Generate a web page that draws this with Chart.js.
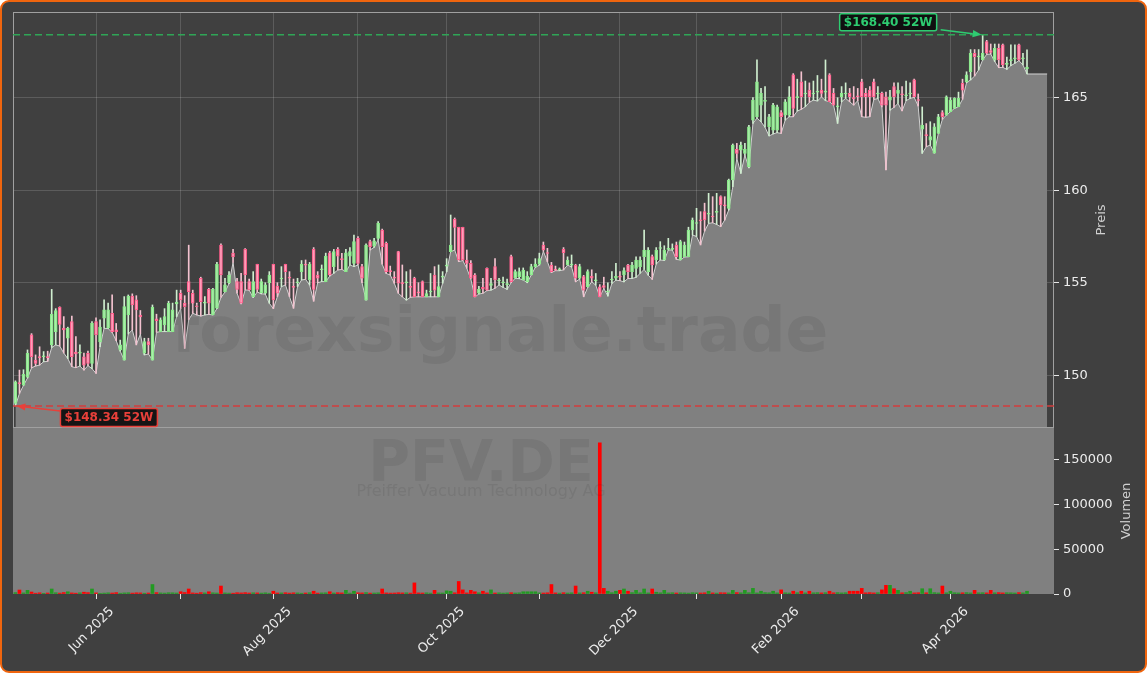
<!DOCTYPE html>
<html>
<head>
<meta charset="utf-8">
<script src="https://cdn.jsdelivr.net/npm/chart.js@4.4.1/dist/chart.umd.min.js"></script>
<style>
html,body{margin:0;padding:0;background:#ffffff;}
#frame{position:absolute;left:0;top:0;width:1147px;height:673px;box-sizing:border-box;border:2px solid #f0650e;border-radius:9px;background:#404040;}
#wrap{position:absolute;left:0;top:0;width:1147px;height:673px;}
</style>
</head>
<body>
<div id="frame"></div>
<div id="wrap"><canvas id="c" width="1147" height="673"></canvas></div>
<script>
// ---- Daily OHLC data (trading-day index 0 = early May 2025) ----
const opens = [
148.48,149.60,149.47,149.90,152.18,150.82,151.00,151.00,151.00,151.64,
152.36,153.67,152.55,152.00,152.90,151.25,151.20,151.00,151.19,150.64,
152.90,151.80,153.08,152.54,153.35,152.45,151.37,150.82,153.26,154.28,
154.07,153.25,151.19,151.82,150.82,153.05,152.36,152.72,152.36,152.36,
153.85,154.43,153.90,155.06,154.43,153.75,155.24,153.90,154.64,153.26,
153.62,157.04,154.52,155.00,156.60,155.06,155.06,156.80,155.06,154.25,
155.99,154.46,154.43,155.00,155.99,154.82,155.20,155.99,155.30,154.80,
155.00,155.60,156.00,155.15,156.80,155.42,155.70,155.06,156.62,155.87,
156.80,156.30,155.60,156.44,156.05,157.40,155.87,154.06,157.22,156.98,
157.40,157.85,157.13,155.65,155.30,156.68,155.00,155.00,154.80,155.24,
154.50,155.06,154.24,154.50,155.42,154.24,155.30,155.90,156.68,158.42,
157.99,157.99,156.23,156.05,155.42,154.43,154.75,155.78,154.85,155.87,
155.10,155.00,154.90,156.41,155.24,155.33,155.15,155.06,155.42,155.87,
156.00,157.04,156.60,155.96,155.70,155.70,156.80,155.96,155.95,155.96,
155.24,155.33,154.79,155.35,155.10,154.78,154.85,154.50,155.15,155.25,
155.35,155.42,155.96,155.60,155.78,155.87,156.41,155.60,156.41,156.23,
156.85,156.23,156.80,156.80,157.04,156.23,156.41,156.41,157.85,158.20,
158.40,158.84,158.70,158.60,158.80,159.65,159.20,159.02,160.55,162.21,
162.17,161.99,161.27,163.79,163.97,164.60,164.80,163.43,163.25,163.25,
164.19,164.06,164.06,166.23,165.00,165.86,165.20,165.41,165.20,165.30,
165.41,165.30,166.23,165.23,164.50,165.05,165.20,165.23,165.00,165.10,
165.86,165.23,165.41,165.86,165.20,165.23,165.05,164.87,165.60,165.23,
165.20,165.10,165.20,165.96,164.90,163.30,163.00,162.70,162.00,163.07,
164.19,164.06,164.24,164.42,164.51,165.78,165.86,166.41,167.40,167.20,
167.04,168.03,167.55,167.04,167.67,167.85,166.80,167.00,167.10,167.85,
167.10,166.55];

const highs = [
149.70,150.28,150.30,151.37,152.25,151.10,151.54,151.28,151.30,154.64,
153.60,153.70,153.17,152.60,153.20,152.09,151.64,151.20,151.30,152.90,
153.10,153.00,154.07,153.90,154.34,152.80,151.90,154.25,154.34,154.40,
154.30,153.50,152.00,152.00,153.80,153.30,153.10,153.60,154.00,153.90,
154.60,154.60,154.30,157.03,154.60,153.90,155.30,154.25,154.70,154.70,
156.10,157.10,155.24,155.60,156.80,155.24,155.51,156.85,155.20,155.60,
156.00,155.20,155.00,155.60,156.00,155.00,155.87,156.00,155.60,155.20,
155.24,156.20,156.23,156.10,156.90,155.60,155.96,156.60,156.70,156.80,
156.90,156.59,156.80,156.90,157.58,157.50,156.00,157.10,157.30,157.40,
158.30,157.90,157.20,155.90,155.60,156.70,155.96,155.60,155.70,155.30,
155.00,155.10,154.60,155.50,155.87,155.96,155.60,156.30,158.66,158.50,
158.00,158.00,156.77,156.20,155.50,154.80,155.24,155.80,155.24,156.30,
155.24,155.30,155.20,156.50,155.70,155.80,155.80,155.60,156.00,156.30,
156.60,157.20,156.86,156.10,155.90,155.80,156.90,156.40,156.50,156.00,
156.00,155.40,155.70,155.70,155.50,154.90,155.30,155.00,155.60,156.05,
155.60,155.80,156.00,156.10,156.40,156.40,157.85,156.90,156.50,156.90,
157.22,157.00,157.40,157.10,157.20,157.30,157.20,158.00,158.50,159.02,
158.84,159.30,159.83,159.65,159.83,159.70,159.65,160.60,162.50,162.53,
162.60,162.53,163.50,165.00,167.04,165.50,165.60,164.10,164.70,164.60,
164.30,164.90,165.60,166.30,166.00,166.40,165.90,165.80,165.90,166.20,
166.00,167.04,166.30,165.50,165.00,165.60,165.80,165.50,165.60,165.50,
166.00,165.50,165.60,166.00,165.60,165.30,165.30,165.40,165.80,165.80,
165.60,165.90,165.80,166.00,165.20,164.50,163.60,163.70,163.60,164.10,
164.30,165.10,165.00,165.00,165.30,166.00,166.40,167.60,167.60,167.60,
168.40,168.10,167.90,167.90,167.90,167.90,167.20,167.85,167.85,167.90,
167.40,167.58];

const lows = [
148.34,149.02,149.45,149.85,150.40,150.50,150.55,150.73,150.75,151.50,
151.64,151.58,151.20,150.90,150.46,150.41,150.50,150.28,150.52,150.36,
150.10,151.55,152.54,152.52,152.32,151.87,151.30,150.82,152.23,152.45,
151.64,152.23,151.10,151.15,150.82,152.32,152.36,152.36,152.36,152.36,
153.17,153.60,151.45,153.00,153.35,153.26,153.20,153.26,153.29,153.26,
153.60,154.20,154.50,154.95,156.10,154.43,153.85,154.61,154.60,154.20,
154.50,154.40,154.39,153.89,153.60,154.25,154.79,154.88,154.25,153.62,
154.79,155.15,155.18,154.88,154.00,155.00,155.06,155.06,155.36,155.51,
155.69,155.72,155.60,155.96,155.87,155.96,155.00,154.06,156.77,156.91,
157.31,156.00,155.50,155.42,154.97,154.43,154.24,154.06,154.21,154.24,
154.24,154.24,154.24,154.24,154.24,154.24,154.97,155.60,156.68,156.77,
156.14,156.20,155.78,155.20,154.24,154.39,154.43,154.57,154.60,154.70,
154.88,154.75,154.64,155.00,155.24,155.22,155.15,155.00,155.42,155.83,
155.95,156.70,156.14,155.55,155.65,155.65,155.69,155.95,155.85,155.05,
155.20,154.24,154.75,155.05,154.87,154.24,154.69,154.28,154.96,155.14,
155.11,155.05,155.23,155.23,155.29,155.50,155.72,155.41,155.18,156.01,
156.23,156.20,156.77,156.77,156.26,156.23,156.39,156.40,157.58,157.50,
157.04,157.79,158.21,158.24,158.15,158.03,158.39,158.93,160.19,161.72,
160.91,161.90,161.20,163.61,163.90,163.70,163.40,162.93,163.04,163.11,
163.07,163.79,163.97,163.97,164.28,164.37,164.51,164.75,164.87,164.82,
165.04,164.84,164.78,164.60,163.61,164.78,164.96,164.78,164.60,164.84,
163.97,163.94,163.97,164.91,164.95,164.50,161.09,164.33,164.48,164.69,
164.28,164.84,164.96,165.02,164.55,161.99,162.35,162.44,162.00,163.07,
163.83,164.06,164.24,164.42,164.51,164.91,165.81,165.96,166.17,166.50,
167.04,167.34,167.36,166.95,166.62,166.64,166.53,166.73,166.86,167.00,
166.77,166.28];

const closes = [
149.65,149.55,150.05,151.19,151.00,150.64,150.95,151.05,150.95,153.29,
153.49,152.75,152.45,152.54,151.00,151.15,151.25,150.55,150.64,152.81,
152.18,152.60,153.53,153.53,152.36,152.35,151.64,153.71,154.28,153.80,
153.53,153.15,151.82,151.64,153.67,152.95,152.99,153.17,153.89,153.53,
153.95,154.07,153.70,154.52,153.89,153.70,153.98,153.95,153.89,154.64,
155.99,155.42,154.88,155.42,156.40,154.64,153.89,155.42,154.61,155.06,
154.64,155.06,154.88,155.42,154.07,154.43,155.25,155.60,155.25,154.75,
155.05,155.99,155.95,155.99,154.64,155.24,155.75,156.44,155.42,156.68,
156.44,156.25,156.62,156.68,157.22,156.05,155.24,157.04,156.95,157.27,
158.21,156.95,155.60,155.60,155.25,154.97,154.95,155.05,154.75,154.24,
154.45,154.24,154.42,154.55,154.60,154.79,155.35,155.95,157.04,157.99,
156.23,156.23,156.05,155.24,154.24,154.64,154.65,154.60,154.95,155.15,
155.12,155.02,154.92,155.06,155.60,155.60,155.69,155.36,155.87,156.01,
156.30,156.77,156.58,155.60,155.68,155.72,156.62,156.23,156.00,155.24,
155.87,154.60,155.60,155.25,155.12,154.24,154.75,154.55,155.20,155.35,
155.30,155.65,155.60,155.96,156.23,156.23,156.77,156.77,155.96,156.77,
156.90,156.77,156.85,156.82,156.41,157.22,157.04,157.85,158.39,158.25,
158.35,158.39,158.75,158.55,158.85,159.20,159.15,160.55,162.44,161.99,
162.44,162.21,163.43,164.87,165.86,165.23,164.85,163.97,164.60,164.51,
163.97,164.78,165.05,164.42,165.05,165.05,165.25,165.05,165.25,165.35,
165.23,165.35,164.78,164.60,164.55,165.23,165.25,165.05,164.95,165.05,
165.05,165.05,165.05,165.05,165.25,164.60,164.60,165.05,165.05,165.41,
165.15,165.15,165.25,165.05,164.85,163.50,162.95,162.90,163.43,163.97,
163.97,165.05,164.87,164.96,164.96,165.41,166.23,167.40,167.22,167.25,
167.40,167.40,167.45,167.67,167.04,166.77,166.85,167.05,167.15,167.04,
167.15,166.65];

const volumes = [
1500,4450,1200,4100,2200,900,1300,800,1100,5600,1400,1000,
1600,2500,1200,900,1300,2000,1500,5600,1200,800,1000,1300,
1100,1500,900,1200,1400,1000,1300,1200,900,1100,10600,1500,
1200,1000,1400,1300,1100,2500,1600,5600,1200,900,1500,1200,
2500,1300,1100,8900,1200,1000,900,1400,1200,1500,1100,1300,
1200,1000,1300,900,3100,1100,1200,1400,1000,1300,1200,900,
1100,1400,3100,1000,1200,1300,2500,1100,1400,1200,4100,1000,
3100,1300,1200,1500,1000,1100,1300,5600,1200,1000,1100,1400,
1200,1300,1000,12400,1200,1100,1300,1000,4100,1200,1100,3500,
3100,1300,14000,4600,1200,4100,2500,1300,3100,1200,4600,1100,
1300,1000,1200,1400,1100,1300,2500,2500,2500,2500,1200,1100,
1300,10600,1200,1000,1400,1100,1300,8900,1200,1400,3100,2000,
1300,169000,6300,3100,1400,3100,4100,5600,3100,1500,4100,1300,
5600,1200,5600,2000,1300,4100,1200,1400,1100,1300,1200,1000,
1400,1200,1100,1300,3100,1200,1000,1400,1300,1200,4100,1500,
1300,4100,1400,6300,1200,3100,1500,1300,3100,1200,4600,1300,
1100,3100,1400,3100,1200,3100,1300,1500,1200,1400,3100,1300,
1500,1200,1400,3100,3100,3100,6300,1300,1500,1200,1400,4600,
9700,9700,5900,4100,1300,1500,3100,1200,1400,5900,1300,5900,
1500,1200,8900,1300,3100,1400,1200,1300,1500,1200,4100,1300,
1400,1200,4100,1300,1500,1200,1400,1300,1100,1500,1200,3100];

// first trading day of each month (index) and the tick labels
const monthStarts = [20, 41, 64, 85, 107, 130, 150, 169, 190, 210, 232];
const monthLabels = ['Jun 2025','','Aug 2025','','Oct 2025','','Dec 2025','','Feb 2026','','Apr 2026'];
const priceTicks = [150, 155, 160, 165];
const volumeTicks = [0, 50000, 100000, 150000];
const tailPad = 5; // the low-price area continues a few sessions past the last candle

// ---- derived ----
const n = closes.length;
const xs = closes.map((_, i) => i);
const up = xs.map(i => closes[i] >= opens[i]);
const lowLine = xs.map(i => ({x: i, y: lows[i]}));
lowLine.push({x: n - 1 + tailPad, y: lows[n - 1]});

Chart.defaults.font.family = "'DejaVu Sans', sans-serif";
Chart.defaults.font.size = 13;
Chart.defaults.color = '#ececec';

const X_MIN = -0.6, X_MAX = 257.7;

function drawArrow(ctx, x1, y1, x2, y2, color) {
  ctx.strokeStyle = color; ctx.fillStyle = color; ctx.lineWidth = 1.6;
  const ang = Math.atan2(y2 - y1, x2 - x1), L = 9, W = 3.6;
  const bx = x2 - L * Math.cos(ang), by = y2 - L * Math.sin(ang);
  ctx.beginPath(); ctx.moveTo(x1, y1); ctx.lineTo(bx, by); ctx.stroke();
  ctx.beginPath(); ctx.moveTo(x2, y2);
  ctx.lineTo(bx + W * Math.sin(ang), by - W * Math.cos(ang));
  ctx.lineTo(bx - W * Math.sin(ang), by + W * Math.cos(ang));
  ctx.closePath(); ctx.fill();
}
function drawTag(ctx, text, left, top, w, h, color) {
  ctx.fillStyle = 'rgba(12,12,12,0.92)';
  ctx.strokeStyle = color; ctx.lineWidth = 1.5;
  ctx.beginPath(); ctx.roundRect(left, top, w, h, 2); ctx.fill(); ctx.stroke();
  ctx.fillStyle = color; ctx.font = "bold 12px 'DejaVu Sans'";
  ctx.textAlign = 'center'; ctx.textBaseline = 'middle';
  ctx.fillText(text, left + w / 2, top + h / 2 + 0.5);
}

const deco = {
  id: 'deco',
  beforeDatasetsDraw(chart) {
    const {ctx, chartArea: a, scales: {yv}} = chart;
    ctx.save();
    ctx.fillStyle = '#808080';
    ctx.fillRect(a.left, yv.top, a.right - a.left, yv.bottom - yv.top);
    ctx.restore();
  },
  afterDatasetsDraw(chart) {
    const {ctx, chartArea: a, scales: {x, y, yv}} = chart;
    ctx.save();
    // watermarks
    ctx.fillStyle = 'rgba(45,45,45,0.11)';
    ctx.textAlign = 'center'; ctx.textBaseline = 'alphabetic';
    ctx.font = "bold 63px 'DejaVu Sans'";
    ctx.fillText('forexsignale.trade', a.left + 487, y.top + 339);
    ctx.font = "bold 57px 'DejaVu Sans'";
    ctx.fillText('PFV.DE', a.left + 468, y.top + 469);
    ctx.font = "16px 'DejaVu Sans'";
    ctx.fillText('Pfeiffer Vacuum Technology AG', a.left + 468, y.top + 484);

    // price panel frame
    ctx.strokeStyle = '#a0a0a0'; ctx.lineWidth = 1;
    ctx.strokeRect(a.left + 0.5, y.top + 0.5, a.right - a.left - 1, y.bottom - y.top - 1);

    // 52-week high / low
    const hiIdx = highs.indexOf(Math.max(...highs));
    const loIdx = lows.indexOf(Math.min(...lows));
    const hiVal = highs[hiIdx], loVal = lows[loIdx];
    const yHi = y.getPixelForValue(hiVal), yLo = y.getPixelForValue(loVal);
    const xHi = x.getPixelForValue(hiIdx), xLo = x.getPixelForValue(loIdx);
    ctx.lineWidth = 1.5; ctx.setLineDash([7, 4]);
    ctx.strokeStyle = '#2fa556';
    ctx.beginPath(); ctx.moveTo(a.left, yHi); ctx.lineTo(a.right, yHi); ctx.stroke();
    ctx.strokeStyle = '#d23c3c';
    ctx.beginPath(); ctx.moveTo(a.left, yLo); ctx.lineTo(a.right, yLo); ctx.stroke();
    ctx.setLineDash([]);

    const green = '#2ecc71', red = '#e8403a';
    drawArrow(ctx, xHi - 42, yHi - 5, xHi - 1, yHi, green);
    drawTag(ctx, '$' + hiVal.toFixed(2) + ' 52W', xHi - 143, yHi - 21, 97, 17, green);
    drawArrow(ctx, xLo + 45, yLo + 5, xLo + 1, yLo, red);
    drawTag(ctx, '$' + loVal.toFixed(2) + ' 52W', xLo + 45, yLo + 2.5, 97, 18, red);

    // axis titles
    ctx.fillStyle = '#d0d0d0'; ctx.font = "13px 'DejaVu Sans'";
    ctx.textAlign = 'center'; ctx.textBaseline = 'middle';
    ctx.save(); ctx.translate(a.right + 48, (y.top + y.bottom) / 2); ctx.rotate(-Math.PI / 2);
    ctx.fillText('Preis', 0, 0); ctx.restore();
    ctx.save(); ctx.translate(a.right + 73, (yv.top + yv.bottom) / 2); ctx.rotate(-Math.PI / 2);
    ctx.fillText('Volumen', 0, 0); ctx.restore();
    ctx.restore();
  }
};

new Chart(document.getElementById('c'), {
  type: 'line',
  data: {
    datasets: [
      { type: 'line', data: lowLine, xAxisID: 'x', yAxisID: 'y',
        borderColor: '#d2d2d2', borderWidth: 1, backgroundColor: '#808080',
        fill: 'start', pointRadius: 0, tension: 0, order: 5 },
      { type: 'bar', data: xs.map(i => ({x: i, y: [lows[i], highs[i]]})), xAxisID: 'x', yAxisID: 'y',
        barThickness: 1, grouped: false, order: 4,
        backgroundColor: xs.map(i => up[i] ? '#cfeecf' : '#f3c2cf') },
      { type: 'bar', data: xs.map(i => ({x: i, y: [opens[i], closes[i]]})), xAxisID: 'x', yAxisID: 'y',
        barThickness: 3, grouped: false, order: 3, minBarLength: 1,
        borderWidth: 1, borderSkipped: false,
        borderColor: xs.map(i => up[i] ? '#8aea8a' : '#ff5c8a'),
        backgroundColor: xs.map(i => up[i] ? 'rgba(190,240,190,0.35)' : 'rgba(255,170,195,0.75)') },
      { type: 'bar', data: xs.map(i => ({x: i, y: volumes[i]})), xAxisID: 'x', yAxisID: 'yv',
        barThickness: 3, grouped: false, order: 6,
        backgroundColor: xs.map(i => up[i] ? '#229a22' : '#ff0000') }
    ]
  },
  options: {
    responsive: false, animation: false, devicePixelRatio: 1, events: [],
    layout: { padding: { left: 13, top: 12, right: 0, bottom: 0 } },
    plugins: { legend: { display: false }, tooltip: { enabled: false } },
    scales: {
      x: { type: 'linear', position: 'top', min: X_MIN, max: X_MAX, offset: false,
        afterBuildTicks: s => { s.ticks = monthStarts.map(v => ({value: v})); },
        ticks: { display: false },
        grid: { color: 'rgba(255,255,255,0.15)', drawTicks: false, offset: false },
        border: { display: false },
        afterFit: s => { s.height = 0; } },
      x2: { type: 'linear', position: 'bottom', min: X_MIN, max: X_MAX, offset: false,
        afterBuildTicks: s => { s.ticks = monthStarts.map(v => ({value: v})); },
        ticks: { autoSkip: false, maxRotation: 45, minRotation: 45, color: '#ececec',
          labelOffset: 16, padding: 5, callback: (v, i) => monthLabels[i] },
        grid: { display: true, drawOnChartArea: false, drawTicks: true, tickLength: 5, tickColor: '#e6e6e6', offset: false },
        border: { display: false },
        afterFit: s => { s.height = 79; } },
      y: { type: 'linear', position: 'right', stack: 'panes', stackWeight: 416, min: 147.15, max: 169.63,
        afterBuildTicks: s => { s.ticks = priceTicks.map(v => ({value: v})); },
        ticks: { color: '#ececec', padding: 4, callback: v => String(v) },
        grid: { color: 'rgba(255,255,255,0.15)', tickColor: '#e6e6e6', tickLength: 5 },
        border: { display: false },
        afterFit: s => { s.width = 93; } },
      yv: { type: 'linear', position: 'right', stack: 'panes', stackWeight: 166, min: 0, max: 185600,
        afterBuildTicks: s => { s.ticks = volumeTicks.map(v => ({value: v})); },
        ticks: { color: '#ececec', padding: 4, callback: v => String(v) },
        grid: { drawOnChartArea: false, tickColor: '#e6e6e6', tickLength: 5 },
        border: { display: false },
        afterFit: s => { s.width = 93; } }
    }
  },
  plugins: [deco]
});
</script>
</body>
</html>
